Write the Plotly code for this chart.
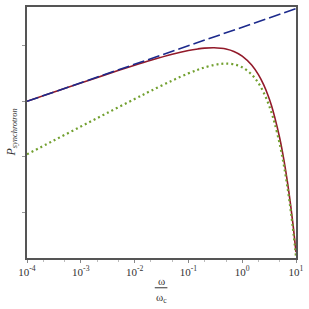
import plotly.graph_objects as go

# x = omega / omega_c
x_main = [1e-4, 3e-4, 1e-3, 3e-3, 0.01, 0.02, 0.05, 0.1, 0.15, 0.2, 0.3, 0.4, 0.5,
          0.7, 1.0, 1.5, 2.0, 2.5, 3.0, 3.5, 4.0, 5.0, 6.0, 7.0, 8.0, 9.0, 10.0]
# exact synchrotron spectrum (red solid)
p_exact = [0.0996, 0.1434, 0.2131, 0.3046, 0.445, 0.547, 0.702, 0.818, 0.874, 0.904,
           0.918, 0.901, 0.872, 0.788, 0.651, 0.449, 0.301, 0.199, 0.130, 0.0842,
           0.0530, 0.0214, 0.00845, 0.00331, 0.00129, 0.000499, 0.000192]
# high-frequency approximation (green dotted)
p_high = [0.0111, 0.01922, 0.03507, 0.06061, 0.1099, 0.1539, 0.2361, 0.3176, 0.3700,
          0.4064, 0.4504, 0.4706, 0.4761, 0.4612, 0.4083, 0.3033, 0.2125, 0.1441,
          0.0957, 0.0627, 0.04066, 0.01672, 0.00674, 0.002678, 0.001053, 0.000411,
          0.0001594]
# low-frequency power law (blue dashed)
x_low = [1e-4, 1e-3, 1e-2, 1e-1, 1.0, 10.0]
p_low = [0.0998, 0.2150, 0.4631, 0.9977, 2.1495, 4.631]

x_tickvals = [1e-4, 1e-3, 1e-2, 1e-1, 1, 10]
x_ticktext = ["10<sup>-4</sup>", "10<sup>-3</sup>", "10<sup>-2</sup>",
              "10<sup>-1</sup>", "10<sup>0</sup>", "10<sup>1</sup>"]
y_tickvals = [1e-3, 1e-2, 1e-1, 1]

serif = "Liberation Serif, Times New Roman, serif"

fig = go.Figure()
fig.add_trace(go.Scatter(x=x_main, y=p_exact, mode="lines", line_shape="spline",
                         line=dict(color="#921a2a", width=1.6), showlegend=False))
fig.add_trace(go.Scatter(x=x_main, y=p_high, mode="lines", line_shape="spline",
                         line=dict(color="#72a030", width=2.2, dash="2px,3px"),
                         showlegend=False))
fig.add_trace(go.Scatter(x=x_low, y=p_low, mode="lines",
                         line=dict(color="#1c2a8c", width=1.6, dash="12px,4px"),
                         showlegend=False))

fig.update_layout(
    width=309, height=309,
    margin=dict(l=27, r=12, t=5, b=51),
    plot_bgcolor="white", paper_bgcolor="white",
    font=dict(family=serif, size=11, color="#333"),
    xaxis=dict(type="log", range=[-4, 1], tickvals=x_tickvals, ticktext=x_ticktext,
               ticks="outside", ticklen=3, tickcolor="#888",
               showline=True, mirror=True, linecolor="#555", linewidth=1.5,
               showgrid=False, zeroline=False,
               tickfont=dict(family=serif, size=11, color="#333"),
               minor=dict(ticks="outside", ticklen=2, tickcolor="#bbb", showgrid=False)),
    yaxis=dict(type="log", range=[-3.82, 0.696], tickvals=y_tickvals,
               showticklabels=False, ticks="outside", ticklen=3, tickcolor="#999",
               showline=True, mirror=True, linecolor="#555", linewidth=1.5,
               showgrid=False, zeroline=False),
    annotations=[
        dict(text="ω", x=0.5, y=0, xref="paper", yref="paper", xanchor="center",
             yanchor="bottom", yshift=-31, showarrow=False,
             font=dict(family=serif, size=11, color="#333")),
        dict(text="ω<sub>c</sub>", x=0.5, y=0, xref="paper", yref="paper",
             xanchor="center", yanchor="top", yshift=-31, showarrow=False,
             font=dict(family=serif, size=11, color="#333")),
        dict(text="<i>P</i><sub><i>synchrotron</i></sub>", x=0, y=0.5, xref="paper",
             yref="paper", xanchor="right", yanchor="middle", xshift=-6,
             textangle=-90, showarrow=False,
             font=dict(family=serif, size=12, color="#333")),
    ],
    shapes=[dict(type="line", xref="paper", yref="paper", x0=0.475, x1=0.522,
                 y0=-0.1186, y1=-0.1186, line=dict(color="#333", width=1))],
)

fig.write_html("out.html", config={"displayModeBar": False},
               post_script="document.body.style.margin='0';document.body.style.padding='0';")
